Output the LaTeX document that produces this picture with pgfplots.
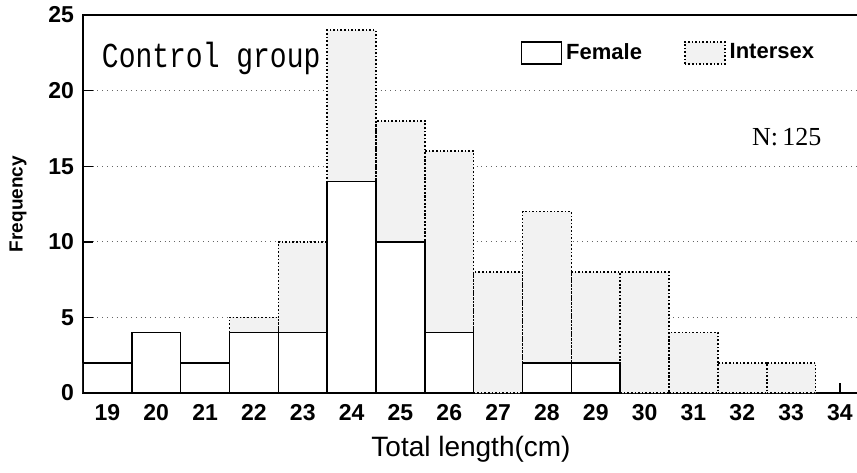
\documentclass[border=0pt]{standalone}
\usepackage{pgfplots}
\pgfplotsset{compat=1.18}
\usepackage{pgfplotstable}
\usepackage{fontspec}
\setmainfont{Liberation Sans}
\newfontfamily\monof{Liberation Mono}
\newfontfamily\seriff{Liberation Serif}
\usetikzlibrary{calc}
\pgfplotstableread{
x F I
19 2 0
20 4 0
21 2 0
22 4 1
23 4 6
24 14 10
25 10 8
26 4 12
27 0 8
28 2 10
29 2 6
30 0 8
31 0 4
32 0 2
33 0 2
}\datatable
\begin{document}
\begin{tikzpicture}
\begin{axis}[
  name=ax,
  scale only axis,
  width=388pt, height=189pt,
  xmin=18.5, xmax=34.39,
  ymin=0, ymax=25,
  ybar stacked, bar width=1,
  xtick={19,...,34},
  ytick={0,5,10,15,20,25},
  tick align=inside,
  xtick pos=bottom, ytick pos=left,
  major tick length=5pt,
  tick style={black, line width=0.7pt},
  ymajorgrids,
  grid style={dotted, black!60, line width=0.5pt},
  axis line style={line width=1pt},
  /pgf/number format/assume math mode=true,
  ticklabel style={font=\fontsize{11.5}{12}\selectfont\bfseries},
  xticklabel style={yshift=-2pt},
  yticklabel style={xshift=-1pt},
  xlabel={Total length(cm)},
  xlabel style={font=\fontsize{14}{16}\selectfont, yshift=-1pt},
  ylabel={Frequency},
  ylabel style={font=\fontsize{9.5}{10}\selectfont\bfseries, yshift=4pt},
  legend style={draw=none, fill=none, at={(axis cs:27.33,22.5)}, anchor=west,
    font=\fontsize{11}{12}\selectfont\bfseries,
    /tikz/every even column/.append style={column sep=19pt}},
  legend columns=2,
  legend image code/.code={\draw[#1] (0pt,-5.5pt) rectangle (20pt,5.5pt);},
]
\addplot+[draw=black, fill=white, line width=0.8pt, solid] table[x=x, y=F] {\datatable};
\addlegendentry{Female}
\addplot+[draw=black, fill=black!5, line width=0.8pt, densely dotted] table[x=x, y=I] {\datatable};
\addlegendentry{Intersex}
\node[anchor=west, inner sep=0pt] at (axis cs:18.88,22.15) {\scalebox{1}[1.25]{\monof\fontsize{14}{16}\selectfont Control group}};
\node[inner sep=0pt] at (axis cs:32.91,16.9) {\seriff\fontsize{13}{15}\selectfont N:\,125};
\end{axis}
\pgfresetboundingbox
\useasboundingbox ($(ax.south west)+(-41.5pt,-39.5pt)$) rectangle ($(ax.north east)+(-1pt,7.5pt)$);
\end{tikzpicture}
\end{document}
